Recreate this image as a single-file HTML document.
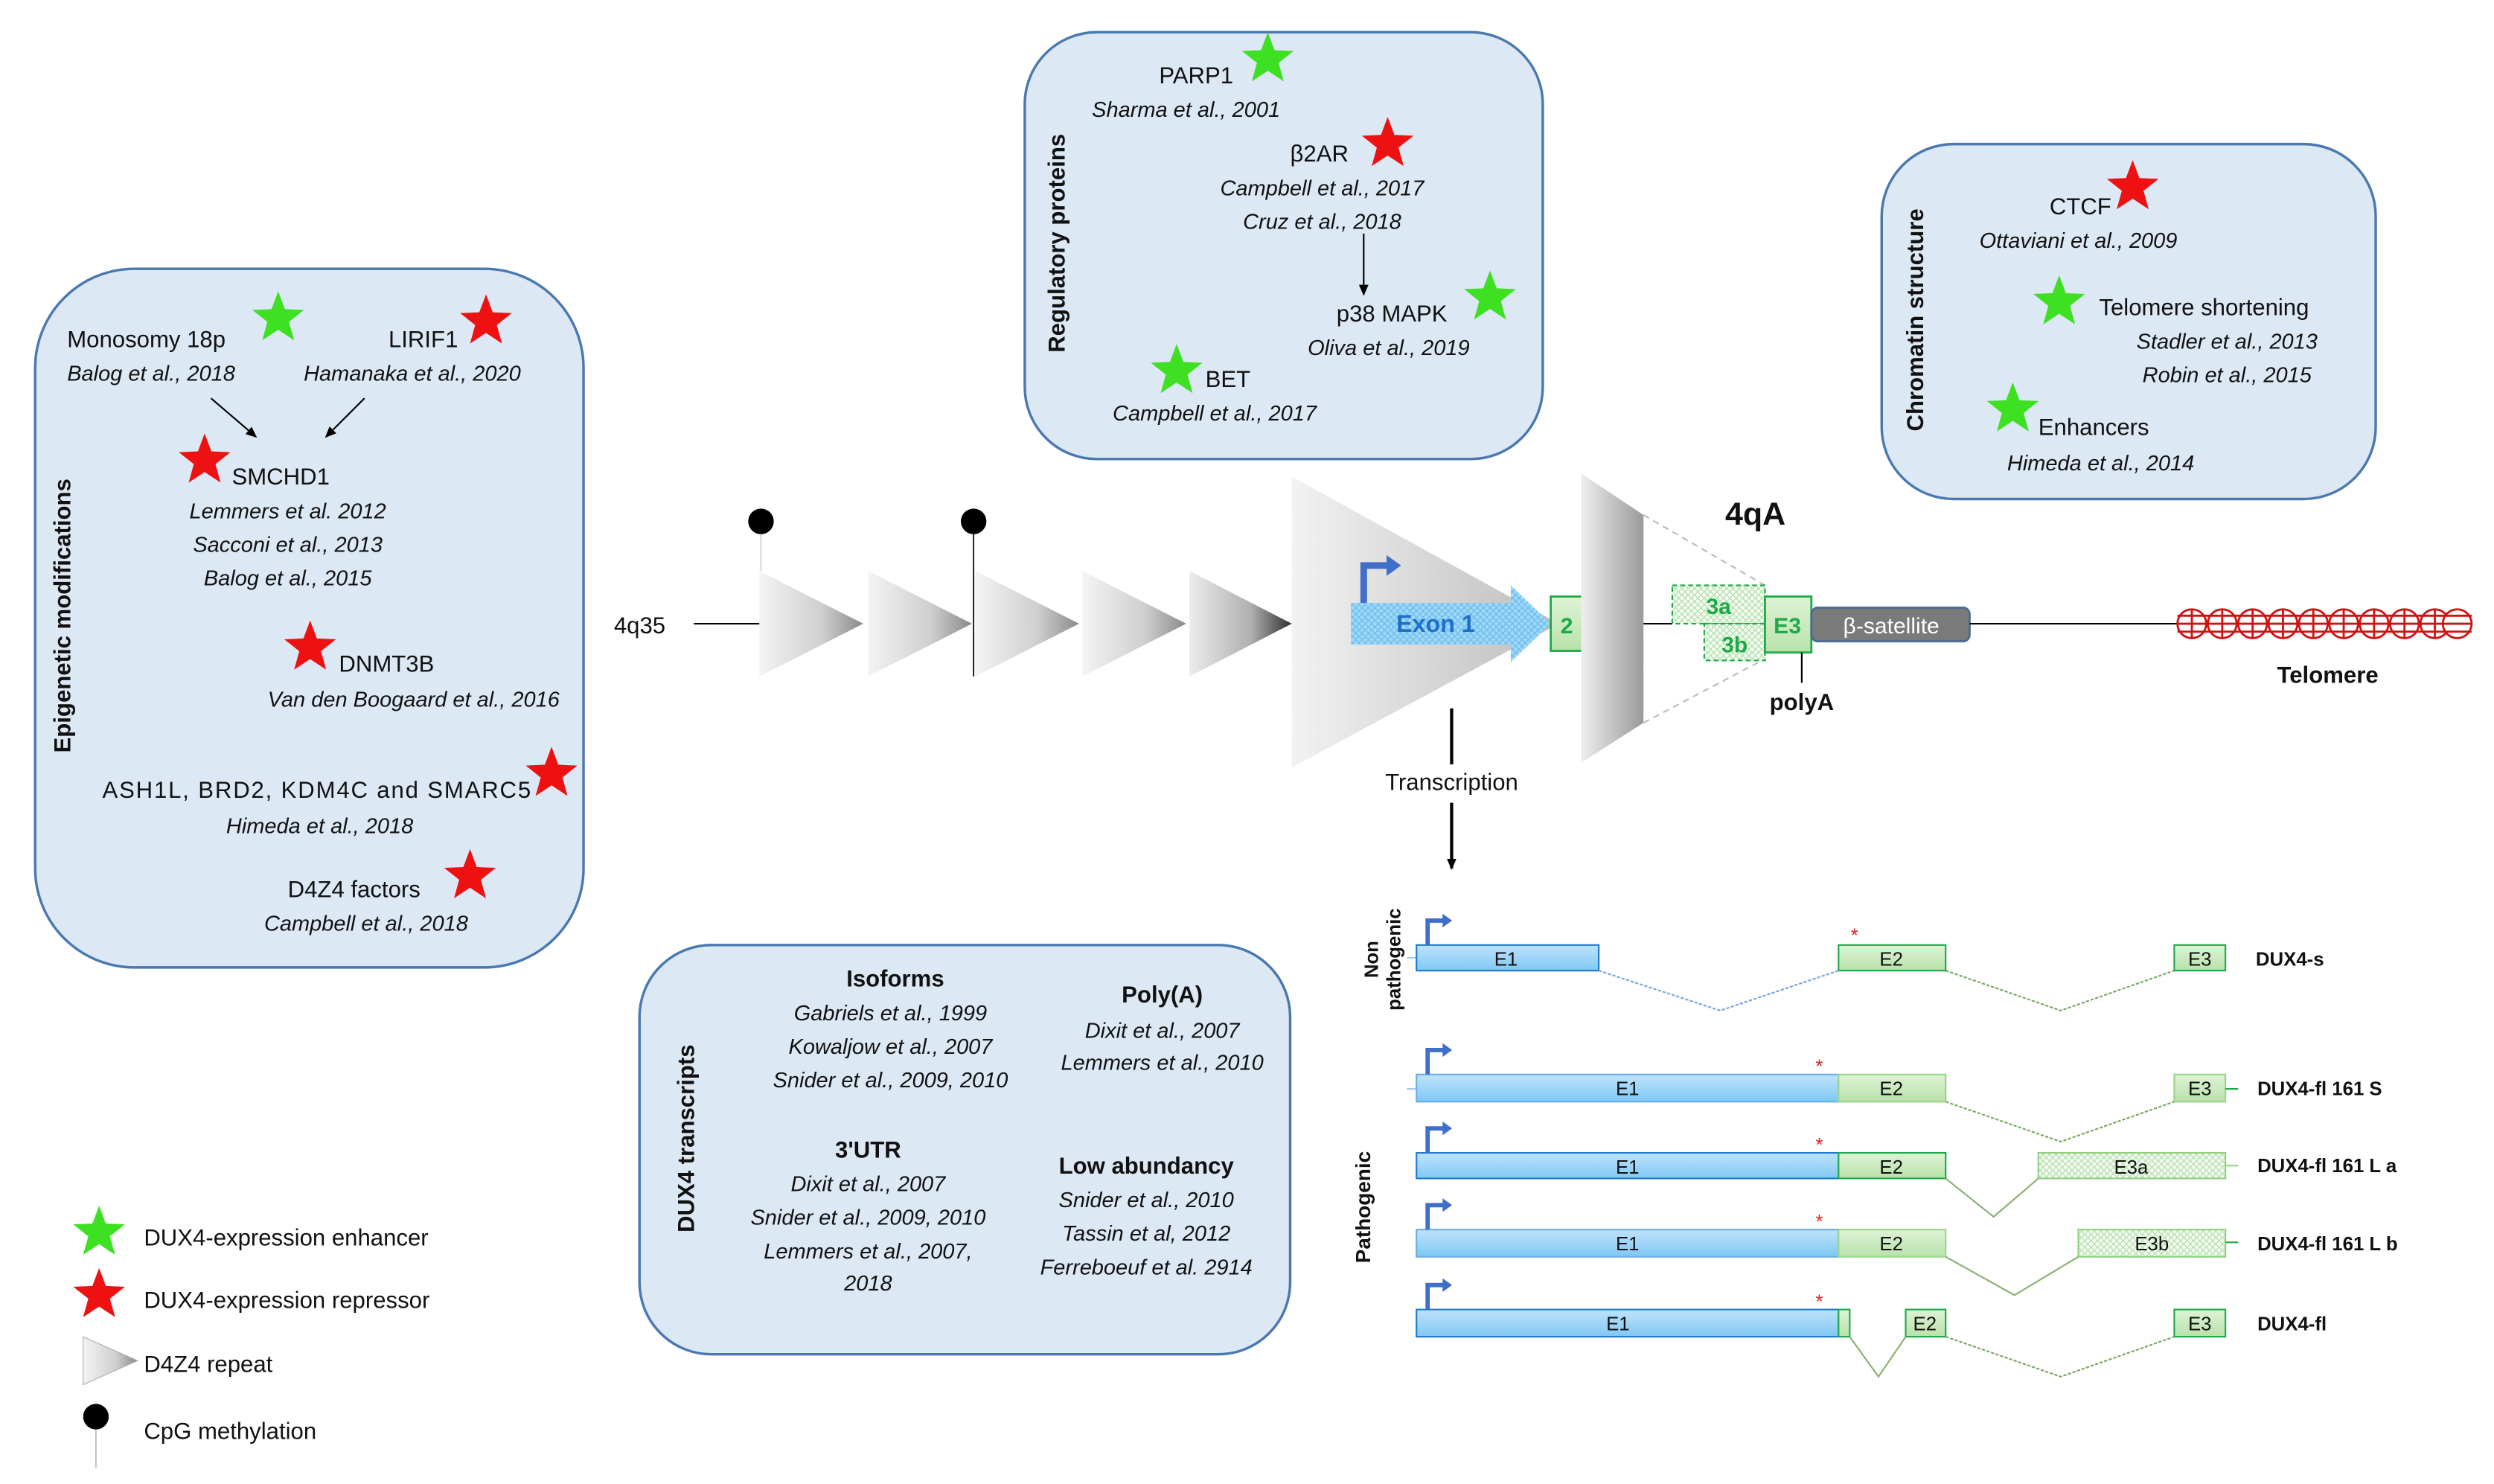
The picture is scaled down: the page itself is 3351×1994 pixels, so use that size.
<!DOCTYPE html>
<html><head><meta charset="utf-8"><style>
html,body{margin:0;padding:0;background:#fff;width:3351px;height:1994px;overflow:hidden}
svg{display:block}
text{font-family:"Liberation Sans",sans-serif;fill:#111}
.t{font-size:14.5px}
.i{font-size:13.5px;font-style:italic}
.b{font-weight:bold}
.box{fill:#dde8f5;stroke:#4a78b0;stroke-width:1.6}
</style></head><body>
<svg width="3351" height="1994" viewBox="0 0 1560 928" xmlns="http://www.w3.org/2000/svg">
<defs>
<polygon id="st" points="0,-1 .247,-.34 .951,-.309 .399,.13 .588,.809 0,.42 -.588,.809 -.399,.13 -.951,-.309 -.247,-.34"/>
<linearGradient id="tri" x1="0" x2="1" y1="0" y2="0"><stop offset="0" stop-color="#f4f4f4"/><stop offset=".6" stop-color="#cfcfcf"/><stop offset="1" stop-color="#8a8a8a"/></linearGradient>
<linearGradient id="tri5" x1="0" x2="1"><stop offset="0" stop-color="#ececec"/><stop offset=".6" stop-color="#b0b0b0"/><stop offset="1" stop-color="#303030"/></linearGradient>
<linearGradient id="big" x1="0" x2="1"><stop offset="0" stop-color="#f2f2f2"/><stop offset="1" stop-color="#bdbdbd"/></linearGradient>
<linearGradient id="trap" x1="0" x2="1"><stop offset="0" stop-color="#eeeeee"/><stop offset="1" stop-color="#9a9a9a"/></linearGradient>
<linearGradient id="bl" x1="0" x2="0" y1="0" y2="1"><stop offset="0" stop-color="#bfe3fb"/><stop offset="1" stop-color="#7fc8f5"/></linearGradient>
<linearGradient id="gr" x1="0" x2="0" y1="0" y2="1"><stop offset="0" stop-color="#def3d6"/><stop offset="1" stop-color="#b9e2aa"/></linearGradient>
<pattern id="hb" width="4" height="4" patternUnits="userSpaceOnUse"><rect width="4" height="4" fill="#9fd8f8"/><path d="M0,4L4,0M0,0L4,4" stroke="#6bbcec" stroke-width=".6"/></pattern>
<pattern id="hg" width="4" height="4" patternUnits="userSpaceOnUse"><rect width="4" height="4" fill="#f4fbf1"/><path d="M0,4L4,0M0,0L4,4" stroke="#a8dba0" stroke-width=".5"/></pattern>
<marker id="ar" markerWidth="8" markerHeight="8" refX="6" refY="3" orient="auto" markerUnits="userSpaceOnUse"><path d="M0,0L7,3L0,6z" fill="#000"/></marker>
<g id="pr"><path d="M0,0V-18H12" fill="none" stroke="#3f6fc8" stroke-width="3.2"/><path d="M11,-23L18,-18L11,-13z" fill="#3f6fc8"/></g>
</defs>

<rect class="box" x="22" y="168" width="343" height="437" rx="62"/>
<text class="t b" transform="translate(44,385) rotate(-90)" text-anchor="middle" font-size="16">Epigenetic modifications</text>
<text class="t" x="42" y="217">Monosomy 18p</text>
<use href="#st" transform="translate(174,199) scale(17)" fill="#3ee022"/>
<text class="i" x="42" y="238">Balog et al., 2018</text>
<text class="t" x="243" y="217">LIRIF1</text>
<use href="#st" transform="translate(304,201) scale(17)" fill="#ee1111"/>
<text class="i" x="190" y="238">Hamanaka et al., 2020</text>
<line x1="132" y1="249" x2="160" y2="273" stroke="#000" marker-end="url(#ar)"/>
<line x1="228" y1="249" x2="204" y2="273" stroke="#000" marker-end="url(#ar)"/>
<use href="#st" transform="translate(128,288) scale(17)" fill="#ee1111"/>
<text class="t" x="145" y="303">SMCHD1</text>
<text class="i" x="180" y="324" text-anchor="middle">Lemmers et al. 2012</text>
<text class="i" x="180" y="345" text-anchor="middle">Sacconi et al., 2013</text>
<text class="i" x="180" y="366" text-anchor="middle">Balog et al., 2015</text>
<use href="#st" transform="translate(194,405) scale(17)" fill="#ee1111"/>
<text class="t" x="212" y="420">DNMT3B</text>
<text class="i" x="350" y="442" text-anchor="end">Van den Boogaard et al., 2016</text>
<text class="t" x="64" y="499" textLength="268">ASH1L, BRD2, KDM4C and SMARC5</text>
<use href="#st" transform="translate(345,484) scale(17)" fill="#ee1111"/>
<text class="i" x="200" y="521" text-anchor="middle">Himeda et al., 2018</text>
<text class="t" x="180" y="561">D4Z4 factors</text>
<use href="#st" transform="translate(294,548) scale(17)" fill="#ee1111"/>
<text class="i" x="229" y="582" text-anchor="middle">Campbell et al., 2018</text>

<rect class="box" x="641" y="20" width="324" height="267" rx="45"/>
<text class="t b" transform="translate(666,152) rotate(-90)" text-anchor="middle" font-size="16">Regulatory proteins</text>
<text class="t" x="725" y="52">PARP1</text>
<use href="#st" transform="translate(793,37) scale(17)" fill="#3ee022"/>
<text class="i" x="683" y="73">Sharma et al., 2001</text>
<text class="t" x="807" y="101">β2AR</text>
<use href="#st" transform="translate(868,90) scale(17)" fill="#ee1111"/>
<text class="i" x="827" y="122" text-anchor="middle">Campbell et al., 2017</text>
<text class="i" x="827" y="143" text-anchor="middle">Cruz et al., 2018</text>
<line x1="853" y1="146" x2="853" y2="184" stroke="#000" marker-end="url(#ar)"/>
<text class="t" x="836" y="201">p38 MAPK</text>
<use href="#st" transform="translate(932,186) scale(17)" fill="#3ee022"/>
<text class="i" x="818" y="222">Oliva et al., 2019</text>
<use href="#st" transform="translate(736,232) scale(17)" fill="#3ee022"/>
<text class="t" x="754" y="242">BET</text>
<text class="i" x="696" y="263">Campbell et al., 2017</text>

<rect class="box" x="1177" y="90" width="309" height="222" rx="45"/>
<text class="t b" transform="translate(1203,200) rotate(-90)" text-anchor="middle" font-size="16">Chromatin structure</text>
<text class="t" x="1282" y="134">CTCF</text>
<use href="#st" transform="translate(1334,117) scale(17)" fill="#ee1111"/>
<text class="i" x="1300" y="155" text-anchor="middle">Ottaviani et al., 2009</text>
<use href="#st" transform="translate(1288,189) scale(17)" fill="#3ee022"/>
<text class="t" x="1313" y="197">Telomere shortening</text>
<text class="i" x="1393" y="218" text-anchor="middle">Stadler et al., 2013</text>
<text class="i" x="1393" y="239" text-anchor="middle">Robin et al., 2015</text>
<use href="#st" transform="translate(1259,256) scale(17)" fill="#3ee022"/>
<text class="t" x="1275" y="272">Enhancers</text>
<text class="i" x="1314" y="294" text-anchor="middle">Himeda et al., 2014</text>

<rect class="box" x="400" y="591" width="407" height="256" rx="45"/>
<text class="t b" transform="translate(434,712) rotate(-90)" text-anchor="middle" font-size="16">DUX4 transcripts</text>
<text class="t b" x="560" y="617" text-anchor="middle">Isoforms</text>
<text class="i" x="557" y="638" text-anchor="middle">Gabriels et al., 1999</text>
<text class="i" x="557" y="659" text-anchor="middle">Kowaljow et al., 2007</text>
<text class="i" x="557" y="680" text-anchor="middle">Snider et al., 2009, 2010</text>
<text class="t b" x="727" y="627" text-anchor="middle">Poly(A)</text>
<text class="i" x="727" y="649" text-anchor="middle">Dixit et al., 2007</text>
<text class="i" x="727" y="669" text-anchor="middle">Lemmers et al., 2010</text>
<text class="t b" x="543" y="724" text-anchor="middle">3'UTR</text>
<text class="i" x="543" y="745" text-anchor="middle">Dixit et al., 2007</text>
<text class="i" x="543" y="766" text-anchor="middle">Snider et al., 2009, 2010</text>
<text class="i" x="543" y="787" text-anchor="middle">Lemmers et al., 2007,</text>
<text class="i" x="543" y="807" text-anchor="middle">2018</text>
<text class="t b" x="717" y="734" text-anchor="middle">Low abundancy</text>
<text class="i" x="717" y="755" text-anchor="middle">Snider et al., 2010</text>
<text class="i" x="717" y="776" text-anchor="middle">Tassin et al, 2012</text>
<text class="i" x="717" y="797" text-anchor="middle">Ferreboeuf et al. 2914</text>

<text class="t" x="384" y="396">4q35</text>
<line x1="434" y1="390" x2="475" y2="390" stroke="#000"/>
<line x1="476" y1="326" x2="476" y2="357" stroke="#ccc" stroke-width=".8"/>
<polygon points="475,357 540,390 475,423" fill="url(#tri)"/>
<polygon points="543,357 608,390 543,423" fill="url(#tri)"/>
<polygon points="610,357 675,390 610,423" fill="url(#tri)"/>
<polygon points="677,357 742,390 677,423" fill="url(#tri)"/>
<polygon points="744,357 808,390 744,423" fill="url(#tri5)"/>
<line x1="609" y1="330" x2="609" y2="423" stroke="#000" stroke-width=".8"/>
<circle cx="476" cy="326" r="8" fill="#000"/>
<circle cx="609" cy="326" r="8" fill="#000"/>
<line x1="808" y1="390" x2="845" y2="390" stroke="#000" stroke-width="1.3"/>
<polygon points="808,298 975,390 808,480" fill="url(#big)"/>
<polygon points="845,377 945,377 945,366 970,390 945,414 945,403 845,403" fill="url(#hb)"/>
<text class="b" x="898" y="395" text-anchor="middle" font-size="15" style="fill:#1e6fc8">Exon 1</text>
<use href="#pr" transform="translate(853,377) scale(1.3)"/>
<rect x="970" y="373" width="20" height="34" fill="url(#gr)" stroke="#1fa94a" stroke-width="1.3"/>
<text class="b" x="980" y="396" text-anchor="middle" font-size="14" style="fill:#1fa94a">2</text>
<polygon points="989,296 1028,322 1028,452 989,477" fill="url(#trap)"/>
<line x1="1028" y1="322" x2="1104" y2="366" stroke="#bbb" stroke-dasharray="4,3"/>
<line x1="1028" y1="452" x2="1104" y2="412" stroke="#bbb" stroke-dasharray="4,3"/>
<line x1="1028" y1="390" x2="1046" y2="390" stroke="#000"/>
<rect x="1046" y="366" width="58" height="24" fill="url(#hg)" stroke="#1fa94a" stroke-dasharray="3,2"/>
<rect x="1066" y="390" width="38" height="23" fill="url(#hg)" stroke="#1fa94a" stroke-dasharray="3,2"/>
<text class="b" x="1075" y="384" text-anchor="middle" font-size="14" style="fill:#1fa94a">3a</text>
<text class="b" x="1085" y="408" text-anchor="middle" font-size="14" style="fill:#1fa94a">3b</text>
<rect x="1104" y="373" width="29" height="35" fill="url(#gr)" stroke="#1fa94a" stroke-width="1.3"/>
<text class="b" x="1118" y="396" text-anchor="middle" font-size="14" style="fill:#1fa94a">E3</text>
<line x1="1127" y1="408" x2="1127" y2="427" stroke="#000"/>
<text class="t b" x="1127" y="444" text-anchor="middle">polyA</text>
<text class="b" x="1098" y="328" text-anchor="middle" font-size="20">4qA</text>
<rect x="1133" y="380" width="99" height="21" rx="4" fill="#7a7a7a" stroke="#4a6a90" stroke-width="1.3"/>
<text x="1183" y="396" text-anchor="middle" font-size="14" style="fill:#fff">β-satellite</text>
<line x1="1232" y1="390" x2="1362" y2="390" stroke="#000"/>
<g fill="#fff" stroke="#d21010" stroke-width="1.3">
<circle cx="1371" cy="390" r="9"/><circle cx="1390" cy="390" r="9"/><circle cx="1409" cy="390" r="9"/><circle cx="1428" cy="390" r="9"/><circle cx="1447" cy="390" r="9"/><circle cx="1466" cy="390" r="9"/><circle cx="1485" cy="390" r="9"/><circle cx="1504" cy="390" r="9"/><circle cx="1523" cy="390" r="9"/><circle cx="1537" cy="390" r="9"/>
<path d="M1362,385H1546M1362,390H1546M1362,395H1546M1371,381V399M1390,381V399M1409,381V399M1428,381V399M1447,381V399M1466,381V399M1485,381V399M1504,381V399M1523,381V399"/>
</g>
<text class="t b" x="1456" y="427" text-anchor="middle" font-size="16">Telomere</text>
<line x1="908" y1="443" x2="908" y2="478" stroke="#000" stroke-width="2"/>
<text class="t" x="908" y="494" text-anchor="middle">Transcription</text>
<line x1="908" y1="502" x2="908" y2="543" stroke="#000" stroke-width="2" marker-end="url(#ar)"/>

<text class="b" transform="translate(862,600) rotate(-90)" text-anchor="middle" font-size="12">Non</text>
<text class="b" transform="translate(866,600) rotate(-90)" text-anchor="middle" font-size="12" dy="10">pathogenic</text>
<text class="b" transform="translate(857,755) rotate(-90)" text-anchor="middle" font-size="13">Pathogenic</text>
<g font-size="13">
<line x1="880" y1="599" x2="886" y2="599" stroke="#9cc9ee"/>
<rect x="886" y="591" width="114" height="16" fill="url(#bl)" stroke="#1f7ad0"/>
<text x="942" y="604" text-anchor="middle" font-size="12">E1</text>
<rect x="1150" y="591" width="67" height="16" fill="url(#gr)" stroke="#1fa94a"/>
<text x="1183" y="604" text-anchor="middle" font-size="12">E2</text>
<rect x="1360" y="591" width="32" height="16" fill="url(#gr)" stroke="#1fa94a"/>
<text x="1376" y="604" text-anchor="middle" font-size="12">E3</text>
<text x="1160" y="589" text-anchor="middle" style="fill:#e02020" font-size="12">*</text>
<polyline points="1000,607 1076,632 1150,607" fill="none" stroke="#6fa8e0" stroke-dasharray="2,1"/>
<polyline points="1217,607 1289,632 1360,607" fill="none" stroke="#7aa860" stroke-dasharray="2,1"/>
<text class="b" x="1411" y="604" font-size="12">DUX4-s</text>
<use href="#pr" transform="translate(893,591) scale(0.85)"/>
<line x1="880" y1="681" x2="886" y2="681" stroke="#9cc9ee"/>
<rect x="886" y="672" width="264" height="17" fill="url(#bl)" stroke="#6aaee6"/>
<text x="1018" y="685" text-anchor="middle" font-size="12">E1</text>
<rect x="1150" y="672" width="67" height="17" fill="url(#gr)" stroke="#9ad48a"/>
<text x="1183" y="685" text-anchor="middle" font-size="12">E2</text>
<rect x="1360" y="672" width="32" height="17" fill="url(#gr)" stroke="#9ad48a"/>
<text x="1376" y="685" text-anchor="middle" font-size="12">E3</text>
<line x1="1392" y1="681" x2="1400" y2="681" stroke="#1fa94a"/>
<text x="1138" y="671" text-anchor="middle" style="fill:#e02020" font-size="12">*</text>
<polyline points="1217,689 1289,714 1360,689" fill="none" stroke="#7aa860" stroke-dasharray="2,1"/>
<text class="b" x="1412" y="685" font-size="12">DUX4-fl 161 S</text>
<use href="#pr" transform="translate(893,672) scale(0.85)"/>
<rect x="886" y="721" width="264" height="16" fill="url(#bl)" stroke="#1f7ad0"/>
<text x="1018" y="734" text-anchor="middle" font-size="12">E1</text>
<rect x="1150" y="721" width="67" height="16" fill="url(#gr)" stroke="#1fa94a"/>
<text x="1183" y="734" text-anchor="middle" font-size="12">E2</text>
<rect x="1275" y="721" width="117" height="16" fill="url(#hg)" stroke="#8fd080"/>
<text x="1333" y="734" text-anchor="middle" font-size="12">E3a</text>
<line x1="1392" y1="729" x2="1400" y2="729" stroke="#9ad48a"/>
<text x="1138" y="720" text-anchor="middle" style="fill:#e02020" font-size="12">*</text>
<polyline points="1217,737 1247,761 1275,737" fill="none" stroke="#8ab070"/>
<text class="b" x="1412" y="733" font-size="12">DUX4-fl 161 L a</text>
<use href="#pr" transform="translate(893,721) scale(0.85)"/>
<rect x="886" y="769" width="264" height="17" fill="url(#bl)" stroke="#6aaee6"/>
<text x="1018" y="782" text-anchor="middle" font-size="12">E1</text>
<rect x="1150" y="769" width="67" height="17" fill="url(#gr)" stroke="#9ad48a"/>
<text x="1183" y="782" text-anchor="middle" font-size="12">E2</text>
<rect x="1300" y="769" width="92" height="17" fill="url(#hg)" stroke="#8fd080"/>
<text x="1346" y="782" text-anchor="middle" font-size="12">E3b</text>
<line x1="1392" y1="777" x2="1400" y2="777" stroke="#1fa94a"/>
<text x="1138" y="768" text-anchor="middle" style="fill:#e02020" font-size="12">*</text>
<polyline points="1217,786 1260,810 1300,786" fill="none" stroke="#8ab070"/>
<text class="b" x="1412" y="782" font-size="12">DUX4-fl 161 L b</text>
<use href="#pr" transform="translate(893,769) scale(0.85)"/>
<rect x="886" y="819" width="264" height="17" fill="url(#bl)" stroke="#1f7ad0"/>
<rect x="1150" y="819" width="7" height="17" fill="url(#gr)" stroke="#1fa94a"/>
<text x="1012" y="832" text-anchor="middle" font-size="12">E1</text>
<rect x="1192" y="819" width="25" height="17" fill="url(#gr)" stroke="#1fa94a"/>
<text x="1204" y="832" text-anchor="middle" font-size="12">E2</text>
<rect x="1360" y="819" width="32" height="17" fill="url(#gr)" stroke="#1fa94a"/>
<text x="1376" y="832" text-anchor="middle" font-size="12">E3</text>
<text x="1138" y="818" text-anchor="middle" style="fill:#e02020" font-size="12">*</text>
<polyline points="1157,836 1175,861 1192,836" fill="none" stroke="#8ab070"/>
<polyline points="1217,836 1289,861 1360,836" fill="none" stroke="#7aa860" stroke-dasharray="2,1"/>
<text class="b" x="1412" y="832" font-size="12">DUX4-fl</text>
<use href="#pr" transform="translate(893,819) scale(0.85)"/>
</g>

<use href="#st" transform="translate(62,771) scale(17)" fill="#3ee022"/>
<text class="t" x="90" y="779">DUX4-expression enhancer</text>
<use href="#st" transform="translate(62,810) scale(17)" fill="#ee1111"/>
<text class="t" x="90" y="818">DUX4-expression repressor</text>
<polygon points="52,836 86,851 52,866" fill="url(#tri)" stroke="#aaa" stroke-width=".5"/>
<text class="t" x="90" y="858">D4Z4 repeat</text>
<line x1="60" y1="886" x2="60" y2="918" stroke="#bbb" stroke-width=".8"/>
<circle cx="60" cy="886" r="8" fill="#000"/>
<text class="t" x="90" y="900">CpG methylation</text>
</svg>
</body></html>
